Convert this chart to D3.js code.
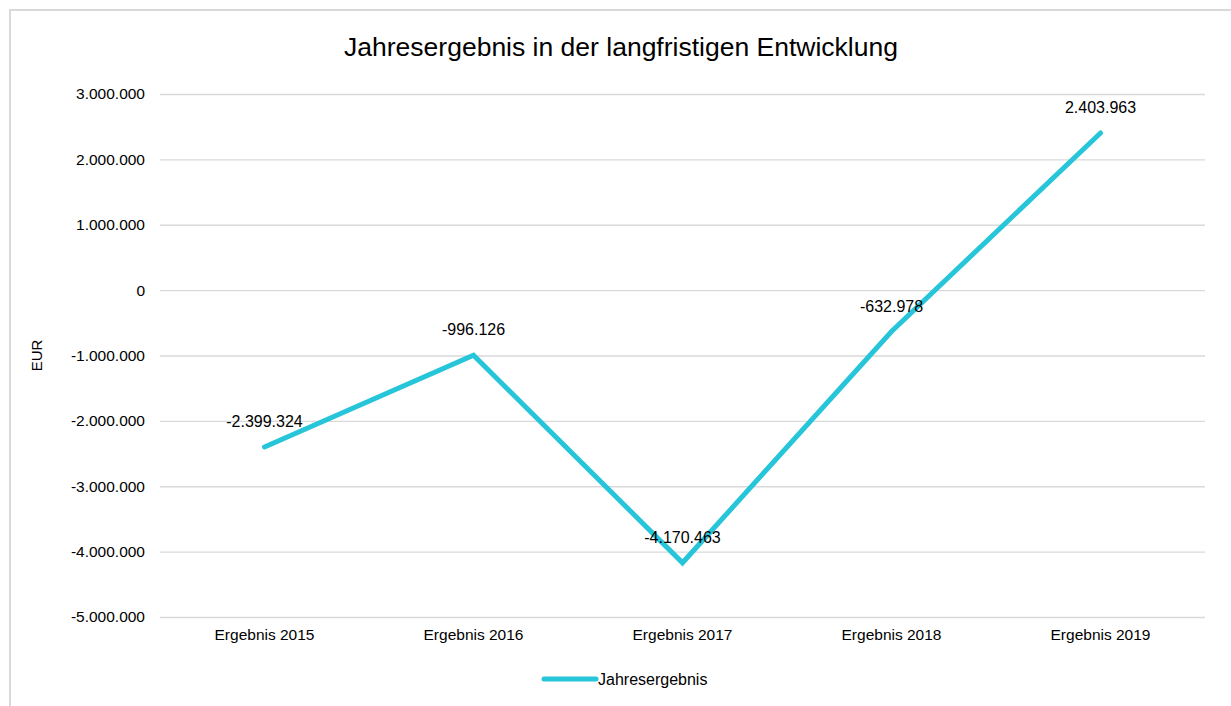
<!DOCTYPE html>
<html>
<head>
<meta charset="utf-8">
<script src="https://cdn.jsdelivr.net/npm/d3@7"></script>
<style>
  body { margin: 0; background: #fff; font-family: "Liberation Sans", Arial, sans-serif; }
  .grid line { stroke: #d9d9d9; stroke-width: 1.3; }
  .axis text { font-size: 15.5px; fill: #000; }
</style>
</head>
<body>
<svg id="chart"></svg>
<script>
// chart data
const categories = ['Ergebnis 2015', 'Ergebnis 2016', 'Ergebnis 2017', 'Ergebnis 2018', 'Ergebnis 2019'];
const values = [-2399324, -996126, -4170463, -632978, 2403963];
const yTicks = [3000000, 2000000, 1000000, 0, -1000000, -2000000, -3000000, -4000000, -5000000];
const seriesName = 'Jahresergebnis';

const width = 1231, height = 706;
const margin = { top: 94, right: 26, bottom: 89, left: 160 };
const innerW = width - margin.left - margin.right;
const innerH = height - margin.top - margin.bottom;
const lineColor = '#27c5d9';

const fmt = v => {
  const s = Math.abs(v).toString().replace(/\B(?=(\d{3})+(?!\d))/g, '.');
  return (v < 0 ? '-' : '') + s;
};

const svg = d3.select('#chart')
  .attr('width', width)
  .attr('height', height);

// outer frame (top and left edges visible)
svg.append('path')
  .attr('d', `M10,${height} L10,10 L${width},10`)
  .attr('fill', 'none')
  .attr('stroke', '#d9d9d9')
  .attr('stroke-width', 2);

// title
svg.append('text')
  .attr('x', 621)
  .attr('y', 56)
  .attr('text-anchor', 'middle')
  .style('font-size', '26.5px')
  .text('Jahresergebnis in der langfristigen Entwicklung');

const g = svg.append('g')
  .attr('transform', `translate(${margin.left},${margin.top})`);

const x = d3.scaleBand()
  .domain(categories)
  .range([0, innerW]);

const y = d3.scaleLinear()
  .domain([-5000000, 3000000])
  .range([innerH, 0]);

// gridlines
g.append('g')
  .attr('class', 'grid')
  .call(d3.axisLeft(y).tickValues(yTicks).tickSize(-innerW).tickFormat(''))
  .call(a => a.select('.domain').remove());

// y axis labels
g.append('g')
  .attr('class', 'axis')
  .call(d3.axisLeft(y).tickValues(yTicks).tickSize(0).tickPadding(15).tickFormat(fmt))
  .call(a => a.select('.domain').remove())
  .call(a => a.selectAll('text').style('font-family', '"Liberation Sans", Arial, sans-serif'));

// x axis labels
g.append('g')
  .attr('class', 'axis')
  .attr('transform', `translate(0,${innerH})`)
  .call(d3.axisBottom(x).tickSize(0).tickPadding(12))
  .call(a => a.select('.domain').remove())
  .call(a => a.selectAll('text').style('font-family', '"Liberation Sans", Arial, sans-serif'));

// y axis title
svg.append('text')
  .attr('transform', `translate(42,${margin.top + y(-1000000)}) rotate(-90)`)
  .attr('text-anchor', 'middle')
  .style('font-size', '15px')
  .text('EUR');

// line
const line = d3.line()
  .x((d, i) => x(categories[i]) + x.bandwidth() / 2)
  .y(d => y(d));

g.append('path')
  .datum(values)
  .attr('fill', 'none')
  .attr('stroke', lineColor)
  .attr('stroke-width', 5)
  .attr('stroke-linecap', 'round')
  .attr('stroke-linejoin', 'miter')
  .attr('d', line);

// data labels
g.selectAll('.data-label')
  .data(values)
  .enter()
  .append('text')
  .attr('class', 'data-label')
  .attr('x', (d, i) => x(categories[i]) + x.bandwidth() / 2)
  .attr('y', d => y(d) - 20)
  .attr('text-anchor', 'middle')
  .style('font-size', '16px')
  .text(fmt);

// legend
const legend = svg.append('g')
  .attr('transform', 'translate(544,679)');
legend.append('line')
  .attr('x1', 0).attr('x2', 52)
  .attr('stroke', lineColor)
  .attr('stroke-width', 5)
  .attr('stroke-linecap', 'round');
legend.append('text')
  .attr('x', 54)
  .attr('y', 6)
  .style('font-size', '16px')
  .text(seriesName);
</script>
</body>
</html>
